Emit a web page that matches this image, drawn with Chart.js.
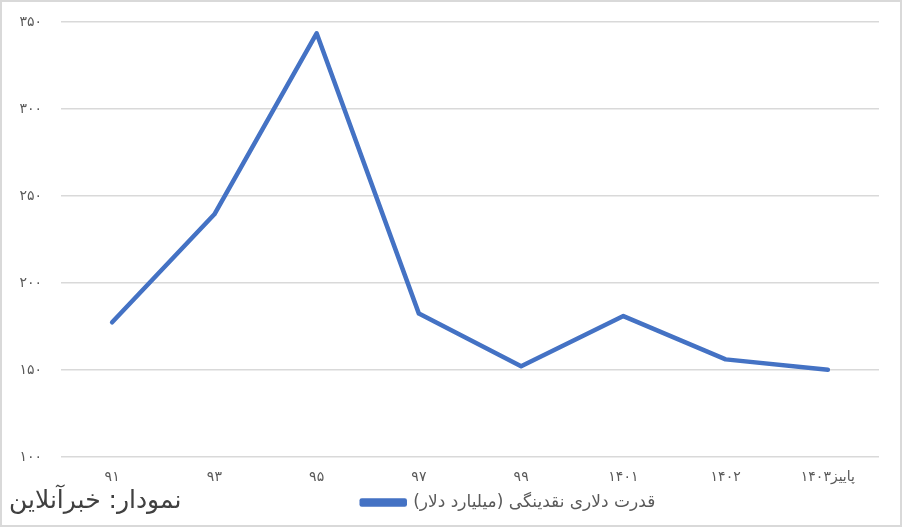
<!DOCTYPE html>
<html>
<head>
<meta charset="utf-8">
<script src="https://cdn.jsdelivr.net/npm/chart.js@4/dist/chart.umd.min.js"></script>
<style>
  html, body { margin: 0; padding: 0; background: #fff; }
  #wrap { position: relative; width: 902px; height: 527px; }
  #source {
    position: absolute; left: 9px; top: 485px;
    font-family: "DejaVu Sans", "Liberation Sans", sans-serif;
    font-size: 25px; color: #404040; direction: rtl; white-space: nowrap;
  }
</style>
</head>
<body>
<div id="wrap">
  <canvas id="chart" width="902" height="527"></canvas>
  <div id="source">نمودار: خبرآنلاین</div>
</div>
<script>
// داده‌ها
const categories = ["۹۱", "۹۳", "۹۵", "۹۷", "۹۹", "۱۴۰۱", "۱۴۰۲", "پاییز\u200E۱۴۰۳"];
const dollarLiquidity = [177.4, 239.5, 343.5, 182.4, 152.1, 181, 156.1, 150.2];
const seriesLabel = "قدرت دلاری نقدینگی (میلیارد دلار)";
const yTicks = [100, 150, 200, 250, 300, 350];
const faDigits = ["۰", "۱", "۲", "۳", "۴", "۵", "۶", "۷", "۸", "۹"];

const toFa = n => String(n).replace(/\d/g, d => faDigits[d]);
const fontFamily = "'DejaVu Sans', 'Liberation Sans', sans-serif";

// کادر دور نمودار
const frame = {
  id: "frame",
  beforeDraw(chart) {
    const c = chart.ctx;
    c.save();
    c.fillStyle = "#fff";
    c.fillRect(0, 0, chart.width, chart.height);
    c.strokeStyle = "#d9d9d9";
    c.lineWidth = 2;
    c.strokeRect(1, 1, chart.width - 2, chart.height - 2);
    c.restore();
  },
  // راهنما کمی به راست
  afterLayout(chart) {
    chart.legend.left += 69;
    chart.legend.right += 69;
  }
};

new Chart(document.getElementById("chart"), {
  type: "line",
  data: {
    labels: categories,
    datasets: [{
      label: seriesLabel,
      data: dollarLiquidity,
      borderColor: "#4472c4",
      backgroundColor: "#4472c4",
      borderWidth: 4.5,
      pointRadius: 0,
      tension: 0,
      borderCapStyle: "round",
      borderJoinStyle: "round"
    }]
  },
  options: {
    responsive: false,
    animation: false,
    layout: { padding: { top: 22, right: 23, bottom: 6, left: 0 } },
    plugins: {
      legend: {
        position: "bottom",
        textDirection: "rtl",
        labels: {
          boxWidth: 43,
          boxHeight: 4,
          padding: 8,
          color: "#595959",
          font: { family: fontFamily, size: 17 }
        }
      },
      tooltip: { enabled: false }
    },
    scales: {
      x: {
        offset: true,
        grid: { display: false },
        border: { display: false },
        ticks: {
          color: "#595959",
          padding: 4,
          maxRotation: 0,
          font: { family: fontFamily, size: 14 }
        },
        afterFit: s => { s.height = 29; }
      },
      y: {
        min: 100,
        max: 350,
        afterBuildTicks: s => { s.ticks = yTicks.map(v => ({ value: v })); },
        grid: { color: "#d9d9d9", lineWidth: 1.5, drawTicks: false },
        border: { display: false },
        ticks: {
          color: "#595959",
          padding: 19,
          font: { family: fontFamily, size: 14 },
          callback: v => toFa(v)
        },
        afterFit: s => {
          s.width = 61;
          s.paddingTop = 0;
          s.paddingBottom = 0;
        }
      }
    }
  },
  plugins: [frame]
});
</script>
</body>
</html>
